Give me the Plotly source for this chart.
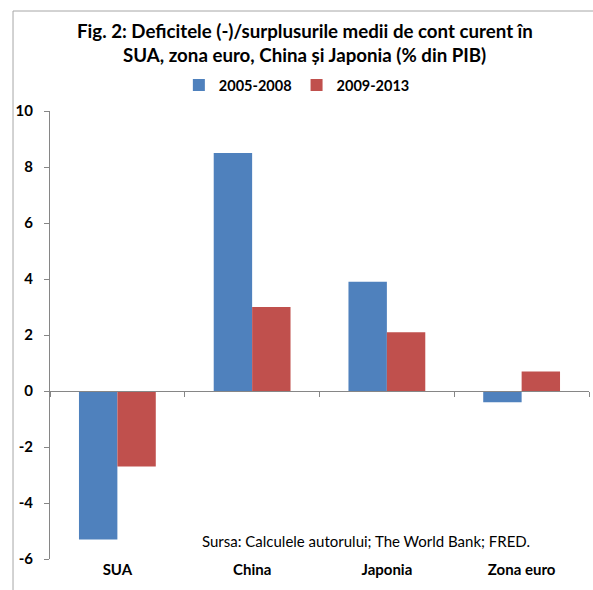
import plotly.graph_objects as go

categories = ["SUA", "China", "Japonia", "Zona euro"]
series_names = ["2005-2008", "2009-2013"]
values_2005_2008 = [-5.3, 8.5, 3.9, -0.4]
values_2009_2013 = [-2.7, 3.0, 2.1, 0.7]
y_ticks = [-6, -4, -2, 0, 2, 4, 6, 8, 10]
y_tick_labels = ["-6", "-4", "-2", "0", "2", "4", "6", "8", "10"]

colors = ["#4F81BD", "#C0504D"]
FONT = "Lato"
ymin, ymax = -6, 10

fig = go.Figure()
for name, vals, col in zip(series_names, [values_2005_2008, values_2009_2013], colors):
    fig.add_trace(go.Bar(x=categories, y=vals, name=name, marker=dict(color=col, line=dict(width=0))))

fig.update_layout(
    width=593, height=590,
    margin=dict(l=50, r=4, t=111, b=31),
    paper_bgcolor="white", plot_bgcolor="white",
    barmode="group", bargap=0.43, bargroupgap=0,
    font=dict(family=FONT, color="black"),
    showlegend=True,
    legend=dict(orientation="h", x=0.458, y=1.058, xanchor="center", yanchor="middle",
                font=dict(family=FONT, size=14.5, color="black", weight="bold"),
                itemwidth=30, bgcolor="rgba(0,0,0,0)", traceorder="normal"),
    xaxis=dict(type="category", categoryarray=categories, anchor="free",
               position=(0 - ymin) / (ymax - ymin),
               showline=True, linecolor="#868686", linewidth=1,
               ticks="outside", tickson="boundaries", ticklen=5, tickcolor="#868686",
               showticklabels=False, showgrid=False, zeroline=False),
    xaxis2=dict(overlaying="x", side="bottom", anchor="y", range=[-0.5, len(categories) - 0.5],
                tickmode="array", tickvals=list(range(len(categories))), ticktext=categories,
                showline=False, ticks="", showgrid=False, zeroline=False,
                tickfont=dict(family=FONT, size=15, color="black", weight="bold")),
    yaxis=dict(range=[ymin, ymax], tickmode="array", tickvals=y_ticks, ticktext=y_tick_labels,
               showline=True, linecolor="#868686",
               linewidth=1, ticks="outside", ticklen=5, tickcolor="#868686",
               showgrid=False, zeroline=False, ticklabelstandoff=8,
               tickfont=dict(family=FONT, size=15, color="black", weight="bold")),
)
# invisible trace to activate xaxis2
fig.add_trace(go.Scatter(x=[0, len(categories) - 1], y=[None, None], xaxis="x2", showlegend=False, hoverinfo="skip"))

fig.add_annotation(text="Fig. 2: Deficitele (-)/surplusurile medii de cont curent în",
                   xref="paper", yref="paper", x=0.473, y=1.179, showarrow=False,
                   xanchor="center", yanchor="middle",
                   font=dict(family=FONT, size=18.7, color="black", weight="bold"))
fig.add_annotation(text="SUA, zona euro, China și Japonia (% din PIB)",
                   xref="paper", yref="paper", x=0.473, y=1.125, showarrow=False,
                   xanchor="center", yanchor="middle",
                   font=dict(family=FONT, size=18.7, color="black", weight="bold"))
fig.add_annotation(text="Sursa: Calculele autorului; The World Bank; FRED.",
                   xref="paper", yref="paper", x=0.586, y=0.04, showarrow=False,
                   xanchor="center", yanchor="middle",
                   font=dict(family=FONT, size=15, color="black"))
# chart frame
fig.add_shape(type="rect", xref="paper", yref="paper", x0=-0.0686, x1=1.2, y0=-0.3, y1=1.2232,
              line=dict(color="#A6A6A6", width=1), fillcolor="rgba(0,0,0,0)", layer="below")

fig.write_html("out.html")
